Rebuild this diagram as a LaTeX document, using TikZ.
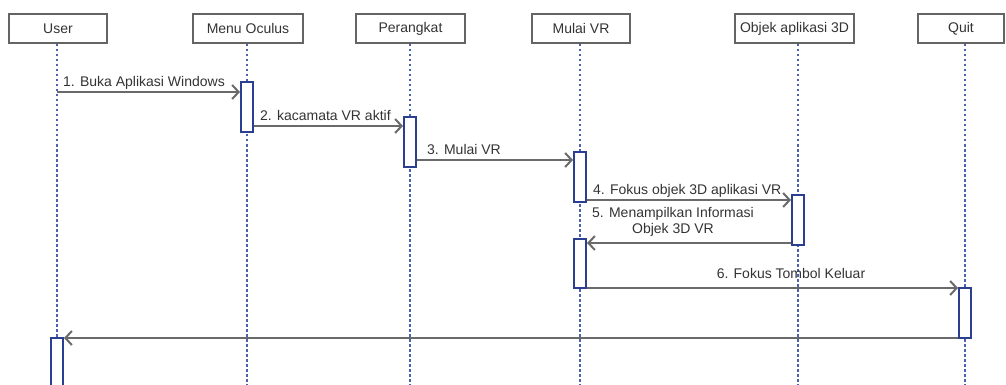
\documentclass[tikz,border=0pt]{standalone}
\usepackage{fontspec}
\setmainfont{Liberation Sans}
\usetikzlibrary{arrows.meta}
\definecolor{headgray}{HTML}{646464}
\definecolor{actblue}{HTML}{2A3F8F}
\definecolor{lifeblue}{HTML}{4A62B0}
\definecolor{arrgray}{HTML}{6A6A6A}
\definecolor{txtgray}{HTML}{333333}
\tikzset{
  head/.style={draw=headgray, line width=2pt, minimum height=29pt, inner sep=0pt,
    font=\fontsize{14}{16}\selectfont, text=txtgray},
  act/.style={draw=actblue, line width=2pt, fill=white, minimum width=12pt, inner sep=0pt},
  life/.style={draw=lifeblue, line width=1.2pt, dash pattern=on 2.5pt off 2.5pt},
  msg/.style={draw=arrgray, line width=2pt, -{Straight Barb[length=6.5pt,width=14pt]}},
  lbl/.style={font=\fontsize{14}{16}\selectfont, text=txtgray, inner sep=0pt}
}
\begin{document}
\begin{tikzpicture}[x=1pt,y=-1pt]
\useasboundingbox (0,0) rectangle (1006,385);
\clip (0,0) rectangle (1006,385);
% headers
\node[head, minimum width=98pt]  (hUser) at (58,28.5)  {User};
\node[head, minimum width=110pt] (hMenu) at (248,28.5) {Menu Oculus};
\node[head, minimum width=109pt] (hPer)  at (410.5,28.5) {Perangkat};
\node[head, minimum width=98pt]  (hMul)  at (581,28.5) {Mulai VR};
\node[head, minimum width=119pt] (hObj)  at (794.5,28.5) {Objek aplikasi 3D};
\node[head, minimum width=86pt]  (hQuit) at (961,28.5) {Quit};
% lifelines
\coordinate (sUser) at (57,44);  \coordinate (eUser) at (57,390);
\coordinate (sMenu) at (247,44); \coordinate (eMenu) at (247,390);
\coordinate (sPer)  at (410,44); \coordinate (ePer)  at (410,390);
\coordinate (sMul)  at (580,44); \coordinate (eMul)  at (580,390);
\coordinate (sObj)  at (798,44); \coordinate (eObj)  at (798,390);
\coordinate (sQuit) at (965,44); \coordinate (eQuit) at (965,390);
\draw[life] (sUser) -- (eUser);
\draw[life] (sMenu) -- (eMenu);
\draw[life] (sPer) -- (ePer);
\draw[life] (sMul) -- (eMul);
\draw[life] (sObj) -- (eObj);
\draw[life] (sQuit) -- (eQuit);
% activations
\node[act, minimum height=50pt] (a1) at (247,107) {};
\node[act, minimum height=50pt] (a2) at (410,142) {};
\node[act, minimum height=50pt] (a3) at (580,177) {};
\node[act, minimum height=50pt] (a4) at (798,220) {};
\node[act, minimum height=49pt] (a5) at (580,263.5) {};
\node[act, minimum height=50pt] (a6) at (965,313) {};
\node[act, minimum height=64pt] (a7) at (57,370) {};
% messages
\coordinate (m1) at (57,92);
\draw[msg] (m1) -- (m1 -| a1.west);
\node[lbl, anchor=base west] (t1) at (63,86.5) {1. Buka Aplikasi Windows};
\coordinate (m2) at (0,126);
\draw[msg] (a1.east |- m2) -- (a2.west |- m2);
\node[lbl, anchor=base west] (t2) at (260,120.5) {2. kacamata VR aktif};
\coordinate (m3) at (0,160);
\draw[msg] (a2.east |- m3) -- (a3.west |- m3);
\node[lbl, anchor=base west] (t3) at (427,154.5) {3. Mulai VR};
\coordinate (m4) at (0,200);
\draw[msg] (a3.east |- m4) -- (a4.west |- m4);
\node[lbl, anchor=base west] (t4) at (593,194.5) {4. Fokus objek 3D aplikasi VR};
\coordinate (m5) at (0,243);
\draw[msg] (a4.west |- m5) -- (a5.east |- m5);
\node[lbl, anchor=base] (t5a) at (673,217) {5. Menampilkan Informasi};
\node[lbl, anchor=base] (t5b) at (673,233) {Objek 3D VR};
\coordinate (m6) at (0,288);
\draw[msg] (a5.east |- m6) -- (a6.west |- m6);
\node[lbl, anchor=base] (t6) at (791,278) {6. Fokus Tombol Keluar};
\coordinate (m7) at (0,338);
\draw[msg] (a6.west |- m7) -- (a7.east |- m7);
\end{tikzpicture}
\end{document}
